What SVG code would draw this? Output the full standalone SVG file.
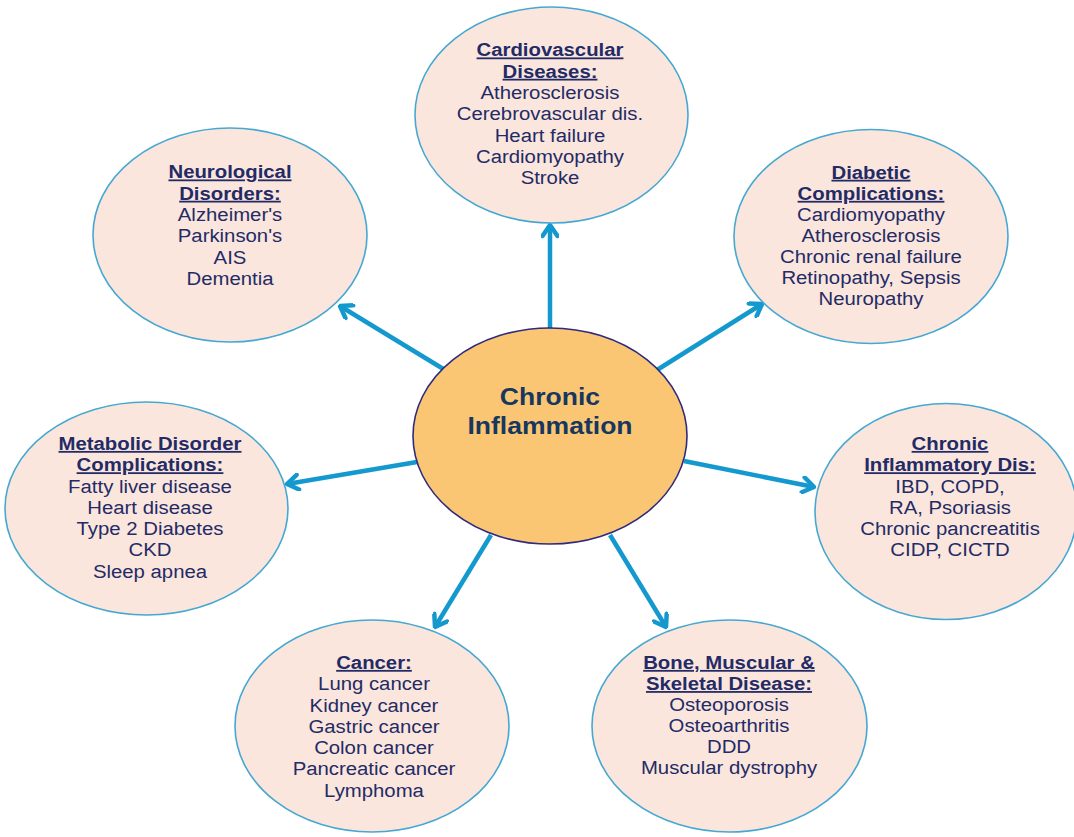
<svg xmlns="http://www.w3.org/2000/svg" width="1074" height="837" viewBox="0 0 1074 837">
<style>
.outer{fill:#fbe6dd;stroke:#45a8d2;stroke-width:1.6}
.center{fill:#fac673;stroke:#2e2a7d;stroke-width:1.6}
.t{font-family:"Liberation Sans",Arial,sans-serif;font-size:18px;fill:#232b66;text-anchor:middle}
.h{font-weight:bold;text-decoration:underline}
.ct{font-family:"Liberation Sans",Arial,sans-serif;font-size:23.5px;font-weight:bold;fill:#17375e;text-anchor:middle}
.arrow{stroke:#1499cf;stroke-width:4.5;fill:none;marker-end:url(#ah)}
</style>
<defs>
<marker id="ah" viewBox="0 0 16 18" refX="14" refY="9" markerWidth="16" markerHeight="18" markerUnits="userSpaceOnUse" orient="auto">
<path d="M3,1.5 L14,9 L3,16.5" fill="none" stroke="#1499cf" stroke-width="4.5" stroke-linecap="round" stroke-linejoin="round"/>
</marker>
</defs>
<rect width="1074" height="837" fill="#ffffff"/>
<g id="connectors">
<line class="arrow" x1="550" y1="328" x2="550" y2="225"/>
<line class="arrow" x1="445" y1="370" x2="340" y2="306"/>
<line class="arrow" x1="657" y1="370" x2="762" y2="304"/>
<line class="arrow" x1="417" y1="462" x2="287" y2="484"/>
<line class="arrow" x1="684" y1="461" x2="814" y2="487"/>
<line class="arrow" x1="491" y1="535" x2="435" y2="627"/>
<line class="arrow" x1="610" y1="535" x2="666" y2="627"/>
</g>
<g id="cardiovascular">
<ellipse class="outer" cx="551.5" cy="115" rx="136.5" ry="108"/>
<g transform="translate(550,0) scale(1.13,1)">
<text class="t h" x="0" y="56.5">Cardiovascular</text>
<text class="t h" x="0" y="77.8">Diseases:</text>
<text class="t" x="0" y="99.1">Atherosclerosis</text>
<text class="t" x="0" y="120.4">Cerebrovascular dis.</text>
<text class="t" x="0" y="141.7">Heart failure</text>
<text class="t" x="0" y="163">Cardiomyopathy</text>
<text class="t" x="0" y="184.3">Stroke</text>
</g>
</g>
<g id="neurological">
<ellipse class="outer" cx="230" cy="235" rx="137" ry="107"/>
<g transform="translate(230,0) scale(1.13,1)">
<text class="t h" x="0" y="178.5">Neurological</text>
<text class="t h" x="0" y="199.8">Disorders:</text>
<text class="t" x="0" y="221.1">Alzheimer's</text>
<text class="t" x="0" y="242.4">Parkinson's</text>
<text class="t" x="0" y="263.7">AIS</text>
<text class="t" x="0" y="285">Dementia</text>
</g>
</g>
<g id="diabetic">
<ellipse class="outer" cx="871" cy="236.5" rx="137" ry="107"/>
<g transform="translate(871,0) scale(1.13,1)">
<text class="t h" x="0" y="178.8">Diabetic</text>
<text class="t h" x="0" y="199.9">Complications:</text>
<text class="t" x="0" y="221">Cardiomyopathy</text>
<text class="t" x="0" y="242.1">Atherosclerosis</text>
<text class="t" x="0" y="263.2">Chronic renal failure</text>
<text class="t" x="0" y="284.3">Retinopathy, Sepsis</text>
<text class="t" x="0" y="305.4">Neuropathy</text>
</g>
</g>
<g id="chronic-inflammation">
<ellipse class="center" cx="550" cy="436" rx="137" ry="108"/>
<g transform="translate(550,0) scale(1.13,1)">
<text class="ct" x="0" y="405">Chronic</text>
<text class="ct" x="0" y="434">Inflammation</text>
</g>
</g>
<g id="metabolic">
<ellipse class="outer" cx="146.5" cy="508.5" rx="141.5" ry="106.5"/>
<g transform="translate(150,0) scale(1.13,1)">
<text class="t h" x="0" y="450">Metabolic Disorder</text>
<text class="t h" x="0" y="471.3">Complications:</text>
<text class="t" x="0" y="492.6">Fatty liver disease</text>
<text class="t" x="0" y="513.9">Heart disease</text>
<text class="t" x="0" y="535.2">Type 2 Diabetes</text>
<text class="t" x="0" y="556.5">CKD</text>
<text class="t" x="0" y="577.8">Sleep apnea</text>
</g>
</g>
<g id="chronic-inflammatory">
<ellipse class="outer" cx="946" cy="511.5" rx="131" ry="108"/>
<g transform="translate(950,0) scale(1.13,1)">
<text class="t h" x="0" y="450">Chronic</text>
<text class="t h" x="0" y="471.3">Inflammatory Dis:</text>
<text class="t" x="0" y="492.6">IBD, COPD,</text>
<text class="t" x="0" y="513.9">RA, Psoriasis</text>
<text class="t" x="0" y="535.2">Chronic pancreatitis</text>
<text class="t" x="0" y="556.5">CIDP, CICTD</text>
</g>
</g>
<g id="cancer">
<ellipse class="outer" cx="372" cy="726" rx="137" ry="106"/>
<g transform="translate(374,0) scale(1.13,1)">
<text class="t h" x="0" y="669">Cancer:</text>
<text class="t" x="0" y="690.3">Lung cancer</text>
<text class="t" x="0" y="711.6">Kidney cancer</text>
<text class="t" x="0" y="732.9">Gastric cancer</text>
<text class="t" x="0" y="754.2">Colon cancer</text>
<text class="t" x="0" y="775.5">Pancreatic cancer</text>
<text class="t" x="0" y="796.8">Lymphoma</text>
</g>
</g>
<g id="bone">
<ellipse class="outer" cx="729.5" cy="726" rx="137.5" ry="106"/>
<g transform="translate(729,0) scale(1.13,1)">
<text class="t h" x="0" y="669">Bone, Muscular &amp;</text>
<text class="t h" x="0" y="690.1">Skeletal Disease:</text>
<text class="t" x="0" y="711.2">Osteoporosis</text>
<text class="t" x="0" y="732.3">Osteoarthritis</text>
<text class="t" x="0" y="753.4">DDD</text>
<text class="t" x="0" y="774.5">Muscular dystrophy</text>
</g>
</g>
</svg>
